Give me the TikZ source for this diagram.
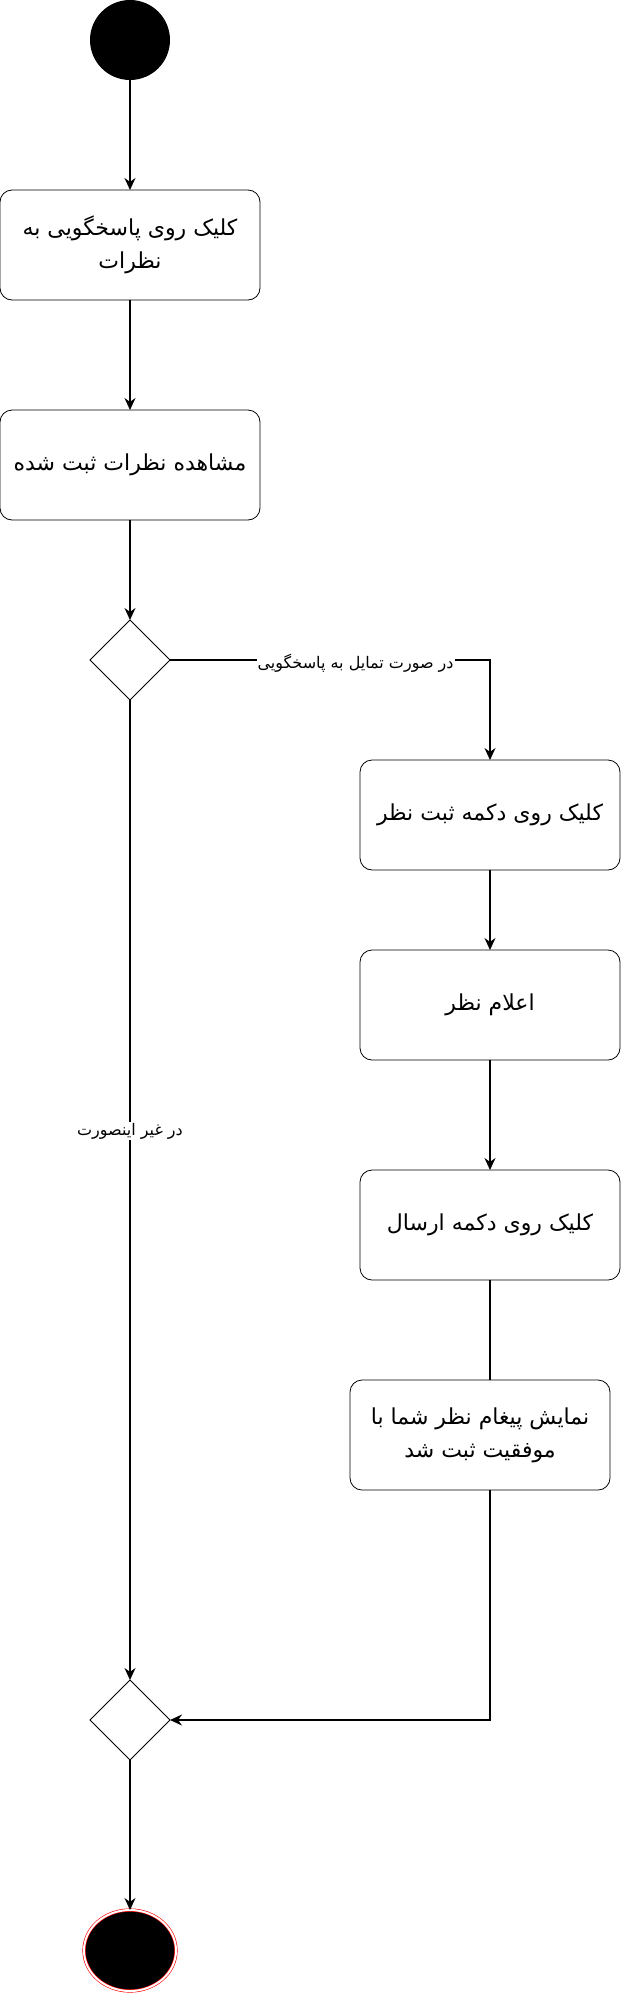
\documentclass[tikz,border=0pt]{standalone}
\usepackage{fontspec}
\newfontfamily\farsifont[Script=Arabic]{DejaVu Sans}
\TeXXeTstate=1
\usetikzlibrary{positioning, shapes.geometric, arrows.meta}
\newcommand{\fa}[1]{\beginR #1\endR}

\begin{document}
\begin{tikzpicture}[
        x=1pt, y=-1pt,
        node distance=110pt,
        every node/.style={font=\farsifont\fontsize{22}{33}\selectfont, align=center, inner sep=0pt, outer sep=0pt},
        activity/.style={draw, rounded corners=12pt, line width=0.8pt, minimum width=260pt, minimum height=110pt},
        decision/.style={draw, diamond, line width=0.8pt, minimum width=80pt, minimum height=80pt},
        startnode/.style={circle, fill=black, minimum size=80pt},
        endnode/.style={ellipse, fill=black, draw=red, double=white, double distance=2pt, line width=0.6pt, minimum width=92pt, minimum height=81pt},
        edgelabel/.style={fill=white, font=\farsifont\fontsize{16}{18}\selectfont, inner sep=1pt},
        arrow/.style={-{Stealth[length=12pt, width=11pt]}, line width=1.2pt}
      ]
    \useasboundingbox (0,0) rectangle (621,1996);

    \node[startnode] (start) at (130,40) {};
    \node[activity] (answer) [below=of start] {\fa{کلیک روی پاسخگویی به}\\\fa{نظرات}};
    \node[activity] (view) [below=of answer] {\fa{مشاهده نظرات ثبت شده}};
    \node[decision] (choice) [below=100pt of view] {};
    \node[activity, anchor=north west] (register) at ([shift={(190,100)}]choice.east) {\fa{کلیک روی دکمه ثبت نظر}};
    \node[activity] (opinion) [below=80pt of register] {\fa{اعلام نظر}};
    \node[activity] (send) [below=of opinion] {\fa{کلیک روی دکمه ارسال}};
    \node[activity] (message) [below=100pt of send, xshift=-10pt] {\fa{نمایش پیغام نظر شما با}\\\fa{موفقیت ثبت شد}};
    \node[decision] (merge) [below=980pt of choice] {};
    \node[endnode] (finish) [below=150pt of merge] {};

    \draw[arrow] (start) -- (answer);
    \draw[arrow] (answer) -- (view);
    \draw[arrow] (view) -- (choice);
    \draw[arrow] (choice.east) -| node[edgelabel, pos=0.29, yshift=-3pt] {\fa{در صورت تمایل به پاسخگویی}} (register);
    \draw[arrow] (choice) -- node[edgelabel, pos=0.44] {\fa{در غیر اینصورت}} (merge);
    \draw[arrow] (register) -- (opinion);
    \draw[arrow] (opinion) -- (send);
    \draw[line width=1.2pt] (send.south) -- (send.south |- message.north);
    \draw[arrow] (send.south |- message.south) |- (merge.east);
    \draw[arrow] (merge) -- (finish);

    \end{tikzpicture}
\end{document}
